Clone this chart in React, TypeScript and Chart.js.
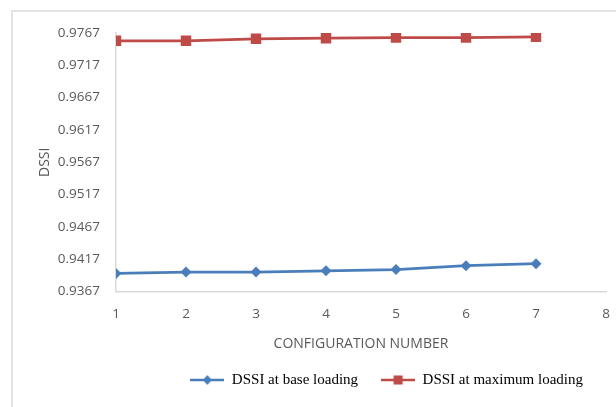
import React, { useEffect, useRef } from "react";
import { Chart, registerables } from "chart.js";

Chart.register(...registerables);

const configurations = [1, 2, 3, 4, 5, 6, 7];
const dssiBase = [0.9395, 0.9397, 0.9397, 0.9399, 0.9401, 0.9407, 0.941];
const dssiMax = [0.9755, 0.9755, 0.9758, 0.9759, 0.976, 0.976, 0.9761];
const yTickValues = [0.9367, 0.9417, 0.9467, 0.9517, 0.9567, 0.9617, 0.9667, 0.9717, 0.9767];
const xMin = 1;
const xMax = 8;
const seriesNames = ["DSSI at base loading", "DSSI at maximum loading"];
const seriesColors = ["#4a7ebb", "#be4b48"];

const sansFamily = "'Open Sans', sans-serif";
const tickFont = { family: sansFamily, size: 13.5 };

function legendIcon(color: string, style: "diamond" | "square"): HTMLCanvasElement {
  const c = document.createElement("canvas");
  c.width = 34;
  c.height = 14;
  const ctx = c.getContext("2d")!;
  ctx.strokeStyle = color;
  ctx.lineWidth = 2.5;
  ctx.beginPath();
  ctx.moveTo(0, 7);
  ctx.lineTo(34, 7);
  ctx.stroke();
  ctx.fillStyle = color;
  if (style === "square") {
    ctx.fillRect(17 - 4.5, 7 - 4.5, 9, 9);
  } else {
    ctx.beginPath();
    ctx.moveTo(17, 2);
    ctx.lineTo(21.5, 7);
    ctx.lineTo(17, 12);
    ctx.lineTo(12.5, 7);
    ctx.closePath();
    ctx.fill();
  }
  return c;
}

export default function App() {
  const ref = useRef<HTMLCanvasElement>(null);
  useEffect(() => {
    if (!ref.current) return;
    const icons = [legendIcon(seriesColors[0], "diamond"), legendIcon(seriesColors[1], "square")];
    const chart = new Chart(ref.current, {
      type: "line",
      data: {
        datasets: [
          {
            label: seriesNames[0],
            data: configurations.map((x, i) => ({ x, y: dssiBase[i] })),
            borderColor: seriesColors[0],
            backgroundColor: seriesColors[0],
            borderWidth: 2.75,
            pointStyle: "rectRot",
            pointRadius: 5.5,
            pointBorderWidth: 0,
            tension: 0,
          },
          {
            label: seriesNames[1],
            data: configurations.map((x, i) => ({ x, y: dssiMax[i] })),
            borderColor: seriesColors[1],
            backgroundColor: seriesColors[1],
            borderWidth: 2.75,
            pointStyle: "rect",
            pointRadius: 7.4,
            pointBorderWidth: 0,
            tension: 0,
          },
        ],
      },
      options: {
        animation: false,
        responsive: false,
        layout: { padding: { left: 0, right: 10, top: 33, bottom: 9.5 } },
        plugins: {
          tooltip: { enabled: false },
          legend: {
            position: "bottom",
            fullSize: false,
            align: "end",
            labels: {
              usePointStyle: true,
              pointStyleWidth: 34,
              padding: 23,
              color: "#000",
              font: { family: "'Liberation Serif', 'Times New Roman', serif", size: 15 },
              generateLabels: () =>
                seriesNames.map((name, i) => ({
                  text: name,
                  pointStyle: icons[i] as any,
                  fillStyle: seriesColors[i],
                  strokeStyle: seriesColors[i],
                  lineWidth: 0,
                  hidden: false,
                  datasetIndex: i,
                })),
            },
          },
        },
        scales: {
          x: {
            type: "linear",
            min: xMin,
            max: xMax,
            grid: { display: false, drawTicks: false },
            border: { display: true, color: "#d9d9d9", width: 1.5 },
            ticks: { stepSize: 1, padding: 15, color: "#595959", font: tickFont },
            title: {
              display: true,
              text: "CONFIGURATION NUMBER",
              color: "#595959",
              font: { family: sansFamily, size: 14, lineHeight: 10 / 14 },
              padding: { top: 0, bottom: 0 },
            },
            afterFit: (s: any) => {
              s.height = 58;
              s.paddingLeft = 0;
              s.paddingRight = 0;
            },
          },
          y: {
            type: "linear",
            min: yTickValues[0],
            max: yTickValues[yTickValues.length - 1],
            grid: { display: false, drawTicks: false },
            border: { display: true, color: "#d9d9d9", width: 1.5 },
            afterBuildTicks: (s: any) => {
              s.ticks = yTickValues.map((v) => ({ value: v }));
            },
            ticks: {
              padding: 16,
              color: "#595959",
              font: tickFont,
              callback: (v: any) => Number(v).toFixed(4),
            },
            title: {
              display: true,
              text: "DSSI",
              color: "#595959",
              font: { family: sansFamily, size: 14, lineHeight: 1.2 },
              padding: { top: 36.6, bottom: 0 },
            },
            afterFit: (s: any) => {
              s.width = 116;
              s.paddingTop = 0;
              s.paddingBottom = 0;
            },
          },
        },
      },
    });
    return () => chart.destroy();
  }, []);
  return (
    <div style={{ position: "absolute", left: 0, top: 0, width: 616, height: 407, overflow: "hidden", background: "#fff" }}>
      <div
        style={{
          position: "absolute",
          left: 11,
          top: 10,
          width: 620,
          height: 420,
          borderLeft: "2px solid #e3e3e3",
          borderTop: "2px solid #e3e3e3",
        }}
      />
      <canvas ref={ref} width={616} height={407} style={{ position: "absolute", left: 0, top: 0 }} />
    </div>
  );
}
